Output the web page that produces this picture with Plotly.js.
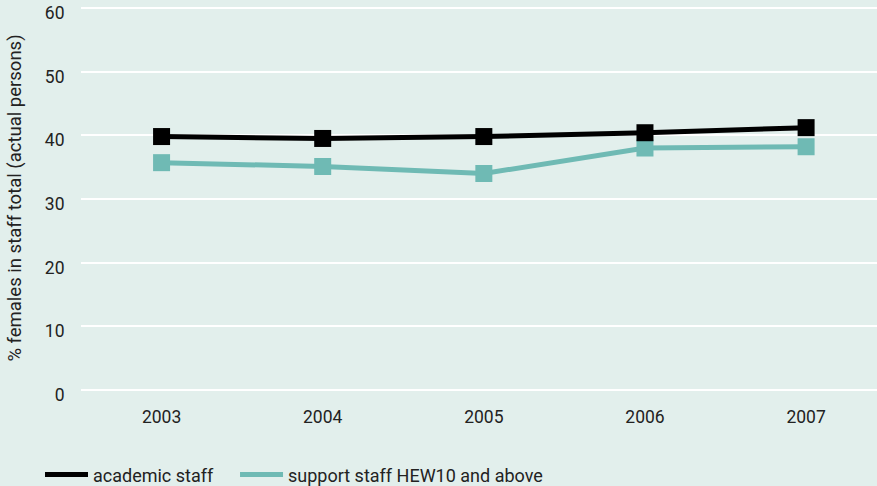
<!DOCTYPE html>
<html><head><meta charset="utf-8">
<script src="https://cdn.plot.ly/plotly-3.0.1.min.js"></script>
<style>html,body{margin:0;padding:0;background:#e2efec}</style>
</head><body>
<div id="chart" style="width:877px;height:486px"></div>
<script>
const years = [2003, 2004, 2005, 2006, 2007];
const academic = [39.8, 39.5, 39.8, 40.4, 41.2];
const support = [35.7, 35.1, 34.0, 38.0, 38.2];
const yTicks = [0, 10, 20, 30, 40, 50, 60];

const fam = 'Roboto, "DejaVu Sans Condensed", sans-serif';
const font = {family: fam, size: 17.5, color: '#222'};
const legFont = {family: fam, size: 18, color: '#222'};
const traces = [
  {x: years, y: support, mode: 'lines+markers', showlegend: false,
   line: {color: '#6fbab4', width: 5}, marker: {symbol: 'square', size: 17, color: '#6fbab4'}},
  {x: years, y: academic, mode: 'lines+markers', showlegend: false,
   line: {color: '#000', width: 5}, marker: {symbol: 'square', size: 17, color: '#000'}},
  {x: [null], y: [null], mode: 'lines', name: 'academic staff', legend: 'legend',
   line: {color: '#000', width: 5}},
  {x: [null], y: [null], mode: 'lines', name: 'support staff HEW10 and above', legend: 'legend2',
   line: {color: '#6fbab4', width: 5}}
];
const legBase = {orientation: 'h', xanchor: 'left', y: -0.221, yanchor: 'middle',
                 bgcolor: 'rgba(0,0,0,0)', font: legFont, itemwidth: 43};
const layout = {
  width: 877, height: 486,
  paper_bgcolor: '#e2efec', plot_bgcolor: '#e2efec',
  margin: {l: 81, r: 0, t: 6, b: 96, autoexpand: false},
  font: font,
  xaxis: {type: 'linear', range: [2002.5, 2007.44], tickvals: years, ticktext: years.map(String),
          showgrid: false, zeroline: false, showline: false,
          ticks: 'outside', ticklen: 11, tickcolor: 'rgba(0,0,0,0)', tickfont: font},
  yaxis: {range: [0, 60.3], tickvals: yTicks, showgrid: true, gridcolor: '#ffffff', gridwidth: 2,
          zeroline: true, zerolinecolor: '#ffffff', zerolinewidth: 2, showline: false,
          ticks: 'outside', ticklen: 12, tickcolor: 'rgba(0,0,0,0)', ticklabeloverflow: 'allow',
          ticklabelshift: 5, tickfont: font, automargin: false,
          title: {text: '% females in staff total (actual persons)', font: {family: fam, size: 18.5, color: '#222'}, standoff: 18}},
  legend: Object.assign({}, legBase, {x: -0.0515}),
  legend2: Object.assign({}, legBase, {x: 0.1935})
};
Plotly.newPlot('chart', traces, layout, {displayModeBar: false, staticPlot: true});
</script>
</body></html>
